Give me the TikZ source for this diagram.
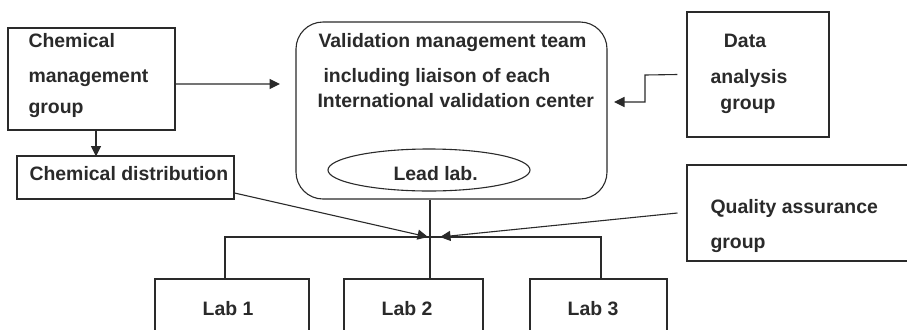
\documentclass[tikz,border=0pt]{standalone}
\usepackage{fontspec}
\setmainfont{Liberation Sans}
\usetikzlibrary{arrows.meta,shapes.geometric}
\definecolor{ink}{HTML}{2A2A2A}
\begin{document}
\begin{tikzpicture}[x=1bp,y=-1bp,
  line width=1.1bp, draw=ink,
  box/.style={draw=ink, rectangle, inner sep=0pt},
  txt/.style={inner sep=0pt, text=ink, font=\fontsize{19.5pt}{23pt}\selectfont\bfseries},
  arr/.style={draw=ink, -{Triangle[length=10.5bp,width=10bp]}}]
\clip (0,0) rectangle (907,329);
\fill[white] (0,0) rectangle (907,329);
% boxes
\node[box, minimum width=167bp, minimum height=102bp] (cmg) at (91.5,79) {};
\node[box, minimum width=217bp, minimum height=43bp] (cd) at (125.5,177.5) {};
\node[box, rounded corners=27bp, minimum width=311bp, minimum height=177bp] (vmt) at (451.5,110.5) {};
\node[draw=ink, ellipse, inner sep=0pt, minimum width=202bp, minimum height=42bp] (ll) at (429,170) {};
\node[box, minimum width=142bp, minimum height=125bp] (da) at (758,74.5) {};
\node[box, minimum width=230bp, minimum height=96bp] (qa) at (802,213) {};
\node[box, minimum width=154bp, minimum height=62bp] (lab1) at (232,310) {};
\node[box, minimum width=139bp, minimum height=62bp] (lab2) at (413.5,310) {};
\node[box, minimum width=137bp, minimum height=62bp] (lab3) at (598.5,310) {};
% texts
\node[txt, anchor=base west] (t1) at (28,47) {Chemical};
\node[txt, anchor=base west] (t2) at (28,82) {management};
\node[txt, anchor=base west] (t3) at (28,113) {group};
\node[txt, anchor=base west] (t4) at (29,180) {Chemical distribution};
\node[txt, anchor=base west] (t5) at (318,47) {Validation management team};
\node[txt, anchor=base west] (t6) at (323,82) {including liaison of each};
\node[txt, anchor=base west] (t7) at (317,107) {International validation center};
\node[txt, anchor=base west] (t8) at (393,180) {Lead lab.};
\node[txt, anchor=base] (t9) at (745,47) {Data};
\node[txt, anchor=base] (t10) at (749,83) {analysis};
\node[txt, anchor=base] (t11) at (748,109) {group};
\node[txt, anchor=base west] (t12) at (710,213) {Quality assurance};
\node[txt, anchor=base west] (t13) at (710,248) {group};
\node[txt, anchor=base] (t14) at (228,315) {Lab 1};
\node[txt, anchor=base] (t15) at (407,315) {Lab 2};
\node[txt, anchor=base] (t16) at (593,315) {Lab 3};
% coordinates
\coordinate (vin) at (280,84);
\coordinate (dbend) at (645,75);
\coordinate (din) at (614,102);
\coordinate (hub) at (430,237);
\coordinate (hubL) at (428,237);
\coordinate (hubR) at (440,237);
\coordinate (l1j) at (225,237);
\coordinate (l3j) at (601,237);
% connectors
\draw[arr] ([yshift=-5bp]cmg.east) -- (vin);
\draw[arr] ([xshift=4.5bp]cmg.south) -- ++(0,26);
\draw[arr] ([xshift=-9bp]da.west) -- (dbend) |- (din);
\draw (vmt.south -| hub) -- (lab2.north -| hub);
\draw (lab1.north -| l1j) -- (l1j) -- (l3j) -- (lab3.north -| l3j);
\draw[arr] ([yshift=-15.5bp]cd.east) -- (hubL);
\draw[arr] ([xshift=-9bp]qa.west) -- (hubR);
\end{tikzpicture}
\end{document}
